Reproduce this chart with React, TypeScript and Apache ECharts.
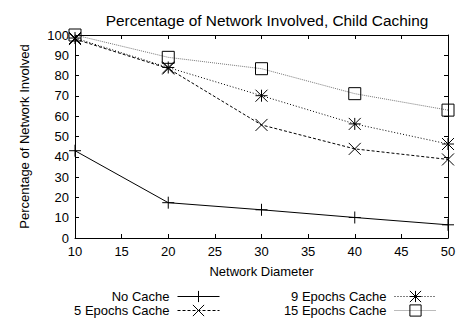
import React, { useEffect, useRef } from "react";
import * as echarts from "echarts";

const diameters = [10, 20, 30, 40, 50];
const noCache = [43, 17.4, 13.9, 10.1, 6.5];
const epochs5 = [98, 83.5, 55.7, 43.9, 38.7];
const epochs9 = [98.5, 84, 70.1, 56.2, 46.3];
const epochs15 = [100, 89, 83.4, 71.1, 63];
const seriesNames = ["No Cache", "5 Epochs Cache", "9 Epochs Cache", "15 Epochs Cache"];

const FONT = "'Liberation Sans', Arial, Helvetica, sans-serif";

const PLUS = "path://M0,5L10,5M5,0L5,10";
const CROSS = "path://M0,0L10,10M10,0L0,10";
const STAR = "path://M0,5L10,5M5,0L5,10M0,0L10,10M10,0L0,10";

function pairs(vals: number[]) {
  return diameters.map((d, i) => [d, vals[i]]);
}

export default function App() {
  const ref = useRef<HTMLDivElement>(null);
  useEffect(() => {
    if (!ref.current) return;
    const chart = echarts.init(ref.current, undefined, { renderer: "svg" });
    const axisCommon = {
      axisLine: { show: true, onZero: false, lineStyle: { color: "#000", width: 1 } },
      axisTick: { show: true, inside: true, length: 4, lineStyle: { color: "#000" } },
      splitLine: { show: false },
    };
    const mk = (name: string, vals: number[], symbol: string, dash: any, color: string, size: number) => ({
      name,
      type: "line",
      data: pairs(vals),
      symbol,
      symbolSize: size,
      showSymbol: true,
      color: "#000",
      lineStyle: { color, width: 1, type: dash },
      itemStyle: { color: symbol === "rect" ? "rgba(0,0,0,0)" : "#000", borderColor: "#000", borderWidth: 1 },
      emphasis: { disabled: true },
      z: 3,
    });
    const legendCommon = {
      orient: "vertical",
      align: "right",
      top: 290,
      itemWidth: 42,
      itemHeight: 14,
      itemGap: 1,
      padding: 0,
      selectedMode: false,
      lineStyle: { width: 1 },
      itemStyle: { borderWidth: 1 },
      textStyle: { fontFamily: FONT, fontSize: 13, color: "#000", padding: [0, 3, 0, 0] },
    };
    chart.setOption({
      animation: false,
      textStyle: { fontFamily: FONT, color: "#000" },
      title: {
        text: "Percentage of Network Involved, Child Caching",
        left: 262,
        textAlign: "center",
        top: 8,
        textStyle: { fontFamily: FONT, fontSize: 15.4, fontWeight: "normal", color: "#000" },
      },
      grid: { left: 75, right: 11, top: 35, bottom: 84 },
      xAxis: [
        {
          type: "value",
          min: 10,
          max: 50,
          interval: 5,
          position: "bottom",
          name: "Network Diameter",
          nameLocation: "middle",
          nameGap: 27,
          nameTextStyle: { fontFamily: FONT, fontSize: 13, color: "#000" },
          axisLabel: { fontFamily: FONT, fontSize: 13, color: "#000", margin: 7 },
          ...axisCommon,
        },
        {
          type: "value",
          min: 10,
          max: 50,
          interval: 5,
          position: "top",
          axisLabel: { show: false },
          ...axisCommon,
        },
      ],
      yAxis: [
        {
          type: "value",
          min: 0,
          max: 100,
          interval: 10,
          position: "left",
          name: "Percentage of Network Involved",
          nameLocation: "middle",
          nameGap: 44,
          nameTextStyle: { fontFamily: FONT, fontSize: 13, color: "#000" },
          axisLabel: { fontFamily: FONT, fontSize: 13, color: "#000", margin: 6 },
          ...axisCommon,
        },
        {
          type: "value",
          min: 0,
          max: 100,
          interval: 10,
          position: "right",
          axisLabel: { show: false },
          ...axisCommon,
        },
      ],
      legend: [
        { ...legendCommon, data: [seriesNames[0], seriesNames[1]], right: 239 },
        { ...legendCommon, data: [seriesNames[2], seriesNames[3]], right: 22 },
      ],
      series: [
        mk(seriesNames[0], noCache, PLUS, "solid", "#000", 12),
        mk(seriesNames[1], epochs5, CROSS, [3, 2], "#000", 12),
        mk(seriesNames[2], epochs9, STAR, [1, 2], "#000", 12),
        mk(seriesNames[3], epochs15, "rect", [1, 1], "#777", 12),
      ],
    });
    return () => chart.dispose();
  }, []);
  return <div ref={ref} style={{ width: 459, height: 322, position: "absolute", left: 0, top: 0 }} />;
}
